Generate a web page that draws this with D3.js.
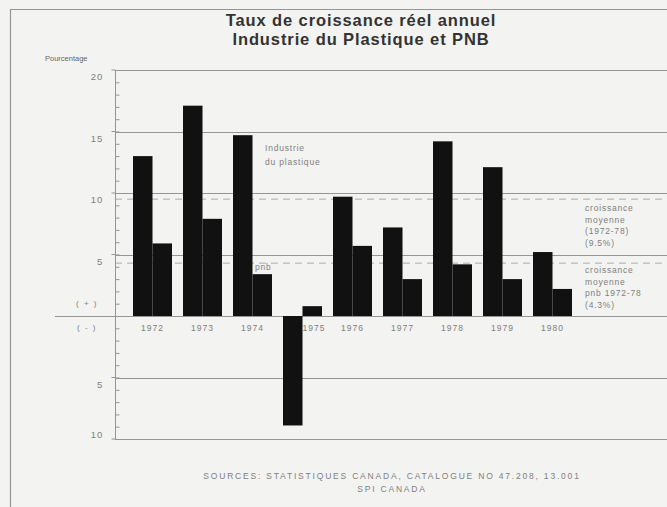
<!DOCTYPE html>
<html>
<head>
<meta charset="utf-8">
<script src="https://cdn.jsdelivr.net/npm/d3@7"></script>
<style>
  html, body { margin: 0; padding: 0; background: #f3f3f1; }
  svg { display: block; font-family: "Liberation Sans", Arial, sans-serif; }
</style>
</head>
<body>
<svg id="chart" width="667" height="507"></svg>
<script>
// Taux de croissance réel annuel (%)
const years = ["1972", "1973", "1974", "1975", "1976", "1977", "1978", "1979", "1980"];
const plastique = [13.0, 17.1, 14.7, -8.9, 9.7, 7.2, 14.2, 12.1, 5.2];
const pnb = [5.9, 7.9, 3.4, 0.8, 5.7, 3.0, 4.2, 3.0, 2.2];
const series = ["plastique", "pnb"];

// Croissance moyenne 1972-78
const moyennePlastique = 9.5;
const moyennePnb = 4.3;

// Axe vertical
const positiveTicks = [20, 15, 10, 5];
const negativeTicks = [-5, -10];
const minorTicks = d3.range(-10, 21);

const titleLines = ["Taux de croissance réel annuel", "Industrie du Plastique et PNB"];
const sourceLines = ["SOURCES:  STATISTIQUES CANADA,  CATALOGUE  NO  47.208,  13.001", "SPI  CANADA"];

const W = 667, H = 507;
const ink = "#111", grid = "#959595", label = "#808080";

const svg = d3.select("#chart");

const y = d3.scaleLinear().domain([-10, 20]).range([439, 70]);
const x0 = d3.scaleBand().domain(years).range([127.5, 577.5]).paddingInner(0.22).paddingOuter(0.11);
const x1 = d3.scaleBand().domain(series).range([0, x0.bandwidth()]);
const axisX = 115;

// cadre
svg.append("path")
  .attr("d", `M10.5,${H} V9.5 H${W}`)
  .attr("fill", "none").attr("stroke", grid).attr("stroke-width", 1.2);

// titre
svg.append("g").selectAll("text").data(titleLines).join("text")
  .attr("x", 361).attr("y", (d, i) => 26 + i * 19)
  .attr("text-anchor", "middle")
  .attr("font-size", 16.5).attr("font-weight", "bold").attr("letter-spacing", 0.9)
  .attr("fill", "#333")
  .text(d => d);

svg.append("text")
  .attr("x", 45).attr("y", 61)
  .attr("font-size", 7.5).attr("fill", "#666")
  .text("Pourcentage");

// lignes horizontales
const gridG = svg.append("g").attr("stroke", grid).attr("stroke-width", 1);
gridG.selectAll("line.g").data(positiveTicks.concat(negativeTicks)).join("line")
  .attr("x1", axisX).attr("x2", W)
  .attr("y1", d => Math.round(y(d)) + 0.5).attr("y2", d => Math.round(y(d)) + 0.5);
gridG.append("line")
  .attr("x1", 55).attr("x2", W)
  .attr("y1", Math.round(y(0)) + 0.5).attr("y2", Math.round(y(0)) + 0.5);

// moyennes (pointillés)
svg.append("g").selectAll("line").data([moyennePlastique, moyennePnb]).join("line")
  .attr("x1", axisX).attr("x2", W)
  .attr("y1", d => y(d)).attr("y2", d => y(d))
  .attr("stroke", "#aaa").attr("stroke-width", 1).attr("stroke-dasharray", "7,5");

// axe vertical avec graduations
const axisG = svg.append("g").attr("transform", `translate(${axisX + 0.5},0)`);
axisG.call(d3.axisRight(y).tickValues(minorTicks).tickSize(4).tickFormat(""))
  .call(g => g.select(".domain").remove());
axisG.selectAll(".tick line").attr("stroke", grid);
axisG.append("line").attr("y1", y(20)).attr("y2", y(-10)).attr("stroke", grid);
axisG.selectAll("line.major").data(positiveTicks.concat(negativeTicks)).join("line")
  .attr("x1", -4).attr("x2", 0)
  .attr("y1", d => y(d)).attr("y2", d => y(d)).attr("stroke", grid);

// libellés de l'axe (le plus bas se place au-dessus de sa ligne)
const bottom = y.domain()[0];
svg.append("g").selectAll("text").data(positiveTicks.concat(negativeTicks)).join("text")
  .attr("x", 103).attr("y", d => d === bottom ? y(d) - 1 : y(d) + 10)
  .attr("text-anchor", "end").attr("font-size", 9.5).attr("letter-spacing", 0.8)
  .attr("fill", label)
  .text(d => Math.abs(d));

svg.append("text").attr("x", 87).attr("y", y(0) - 10).attr("text-anchor", "middle")
  .attr("font-size", 8).attr("letter-spacing", 1.5).attr("fill", label).text("( + )");
svg.append("text").attr("x", 87).attr("y", y(0) + 14).attr("text-anchor", "middle")
  .attr("font-size", 8).attr("letter-spacing", 1.5).attr("fill", label).text("( - )");

// années
svg.append("g").selectAll("text").data(years).join("text")
  .attr("x", (d, i) => plastique[i] < 0 ? x0(d) + x1.bandwidth() : x0(d) + x0.bandwidth() / 2)
  .attr("text-anchor", (d, i) => plastique[i] < 0 ? "start" : "middle")
  .attr("y", y(0) + 15)
  .attr("font-size", 8.5).attr("letter-spacing", 1).attr("fill", label)
  .text(d => d);

// barres
const rows = years.map((yr, i) => ({ year: yr, values: [plastique[i], pnb[i]] }));
svg.append("g").selectAll("g").data(rows).join("g")
  .attr("transform", d => `translate(${x0(d.year)},0)`)
  .selectAll("rect").data(d => d.values.map((v, j) => ({ key: series[j], v })))
  .join("rect")
  .attr("x", d => x1(d.key))
  .attr("width", x1.bandwidth())
  .attr("y", d => y(Math.max(0, d.v)))
  .attr("height", d => Math.abs(y(d.v) - y(0)))
  .attr("fill", ink);

// annotations
const note = (lines, x, yTop, gap) => {
  svg.append("g").selectAll("text").data(lines).join("text")
    .attr("x", x).attr("y", (d, i) => yTop + i * gap)
    .attr("font-size", 8.5).attr("letter-spacing", 0.8).attr("fill", label).text(d => d);
};
note(["Industrie", "du plastique"], 265, 151, 14);
note(["pnb"], 255, 270, 0);
note(["croissance", "moyenne", "(1972-78)", "(9.5%)"], 585, 211, 11.7);
note(["croissance", "moyenne", "pnb 1972-78", "(4.3%)"], 585, 273, 11.7);

// sources
svg.append("g").selectAll("text").data(sourceLines).join("text")
  .attr("x", 392).attr("y", (d, i) => 479 + i * 13)
  .attr("text-anchor", "middle")
  .attr("font-size", 8.5).attr("letter-spacing", 1.8).attr("fill", label)
  .text(d => d);
</script>
</body>
</html>
